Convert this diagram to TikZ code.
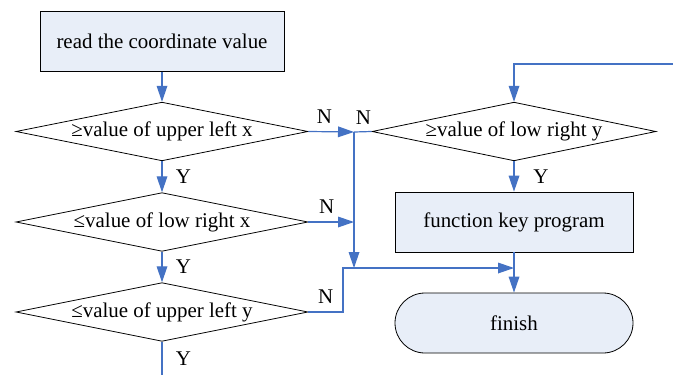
\documentclass[tikz,border=0pt]{standalone}
\usepackage{fontspec}
\setmainfont{Liberation Serif}
\usepackage{tikz}
\usetikzlibrary{shapes.geometric,arrows.meta,positioning,calc}
\definecolor{flowblue}{RGB}{68, 114, 196}
\definecolor{boxfill}{RGB}{232, 238, 248}

\begin{document}
\begin{tikzpicture}[x=0.75pt, y=-0.75pt,
    font=\fontsize{15.7}{18}\selectfont,
    procbox/.style={draw=black, semithick, rectangle, fill=boxfill, minimum width=183pt, minimum height=44.5pt, align=center, inner sep=0pt},
    decision/.style={draw=black, semithick, diamond, aspect=5, minimum width=219pt, minimum height=44pt, inner sep=0pt},
    endbox/.style={draw=black, semithick, rectangle, rounded corners=22.5pt, fill=boxfill, minimum width=178.5pt, minimum height=45pt, inner sep=0pt},
    flow/.style={draw=flowblue, line width=0.9pt},
    flowarr/.style={flow, -{Triangle[length=12pt, width=8pt]}},
    lbl/.style={inner sep=0pt, font=\fontsize{15.7}{18}\selectfont}]
    \useasboundingbox (0,0) rectangle (673,375);

    % left column
    \node [procbox] (read) at (162,41.5) {read the coordinate value};
    \node [decision] (upx) at (162,131.5) {≥value of upper left x};
    \node [decision] (lowx) at (162,222) {≤value of low right x};
    \node [decision] (upy) at (162,312) {≤value of upper left y};
    \coordinate (out) at (162,375);

    % right column
    \node [decision, minimum width=213pt] (lowy) at (514,131.5) {≥value of low right y};
    \node [procbox, minimum width=178.5pt, minimum height=45pt] (key) at (514,222) {function key program};
    \node [endbox] (finish) at (514,323) {finish};

    % junctions
    \coordinate (entry) at (673,64);
    \coordinate (jtop) at (354,132);
    \coordinate (jmid) at (354,222);
    \coordinate (jbot) at (354,268);
    \coordinate (jleft) at (343,268);
    \coordinate (jend) at (514,268);

    \draw [flowarr] (read) -- (upx);
    \draw [flowarr] (upx) -- node[lbl, right=10pt] {Y} (lowx);
    \draw [flowarr] (lowx) -- node[lbl, right=10pt] {Y} (upy);
    \draw [flow] (upy) -- node[lbl, right=10pt] {Y} (out);

    \draw [flowarr] (upx.east) -- node[lbl, pos=0.35, above=6pt] {N} (jtop);
    \draw [flowarr] (lowx.east) -- node[lbl, pos=0.4, above=6pt] {N} (jmid);
    \draw [flowarr] (upy.east) -- node[lbl, pos=0.5, above=6pt] {N} (upy.east -| jleft) -- (jleft) -- (jend);

    \draw [flow] (lowy.west) -- (jtop) node[lbl, above right=5.5pt and 1pt] {N};
    \draw [flowarr] (jtop) -- (jbot);

    \draw [flowarr] (entry) -- (entry -| lowy) -- (lowy.north);
    \draw [flowarr] (lowy) -- node[lbl, right=14pt] {Y} (key);
    \draw [flowarr] (key) -- (finish);
\end{tikzpicture}
\end{document}
